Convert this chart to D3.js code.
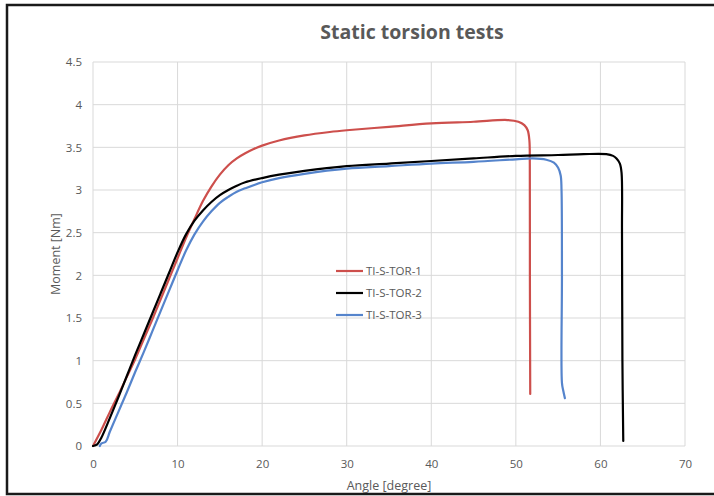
<!DOCTYPE html>
<html><head><meta charset="utf-8">
<script src="https://cdn.jsdelivr.net/npm/d3@7"></script>
<style>
html,body{margin:0;padding:0;background:#fff;}
svg{display:block;font-family:"Open Sans","Liberation Sans",sans-serif;}
</style></head>
<body><svg id="c" width="714" height="496"></svg>
<script>
const title = "Static torsion tests";
const xLabel = "Angle [degree]";
const yLabel = "Moment [Nm]";
const xTicks = [0,10,20,30,40,50,60,70];
const yTicks = [0,0.5,1,1.5,2,2.5,3,3.5,4,4.5];
const seriesNames = ["TI-S-TOR-1","TI-S-TOR-2","TI-S-TOR-3"];
const seriesColors = ["#cd4f4c","#000000","#5584cc"];

const tor1 = [[0,0],[1,0.19],[2,0.4],[3,0.6],[4,0.81],[5,1.02],[6,1.25],[7,1.48],[8,1.72],[9,1.96],[10,2.2],[11,2.44],[12,2.66],[13,2.87],[14,3.04],[15,3.18],[16,3.29],[17,3.37],[18,3.43],[19,3.48],[20,3.52],[22,3.58],[25,3.64],[28,3.68],[30,3.70],[35,3.74],[40,3.78],[45,3.80],[49,3.82],[50.3,3.80],[51,3.76],[51.4,3.70],[51.6,3.58],[51.65,3.3],[51.66,2.0],[51.7,0.61]];
const tor2 = [[0,0],[0.5,0.02],[1,0.1],[2,0.33],[3,0.57],[4,0.82],[5,1.07],[6,1.31],[7,1.55],[8,1.79],[9,2.03],[10,2.27],[11,2.48],[12,2.64],[13,2.76],[14,2.86],[15,2.94],[16,3.0],[17,3.05],[18,3.09],[20,3.14],[22,3.18],[25,3.225],[30,3.28],[35,3.31],[40,3.34],[45,3.37],[50,3.40],[55,3.41],[58,3.42],[60.7,3.42],[61.5,3.40],[61.9,3.37],[62.3,3.31],[62.5,3.2],[62.55,2.5],[62.6,1.0],[62.7,0.06]];
const tor3 = [[0.8,0],[1.0,0.03],[1.5,0.05],[2,0.17],[3,0.4],[4,0.63],[5,0.87],[6,1.1],[7,1.34],[8,1.58],[9,1.82],[10,2.06],[11,2.29],[12,2.48],[13,2.63],[14,2.75],[15,2.85],[16,2.92],[17,2.98],[18,3.02],[20,3.09],[22,3.14],[25,3.19],[30,3.25],[35,3.28],[40,3.31],[45,3.33],[50,3.36],[52,3.37],[53.6,3.355],[54.5,3.32],[55.0,3.26],[55.3,3.17],[55.4,3.0],[55.45,2.0],[55.45,0.74],[55.6,0.65],[55.8,0.56]];
const seriesData = [tor1, tor2, tor3];

const svg = d3.select("#c");
const L = 93, R = 685, T = 62, B = 446;
const x = d3.scaleLinear().domain([0,70]).range([L,R]);
const y = d3.scaleLinear().domain([0,4.5]).range([B,T]);
const txt = "#595959", grid = "#d9d9d9";

// outer frame
svg.append("path").attr("d","M716,5 L7,5 L7,494 L716,494")
  .attr("fill","none").attr("stroke","#1a1a1a").attr("stroke-width",2.5);

// gridlines
svg.append("g").selectAll("line").data(yTicks).join("line")
  .attr("x1",L).attr("x2",R).attr("y1",d=>y(d)).attr("y2",d=>y(d))
  .attr("stroke",grid).attr("stroke-width",1);
svg.append("g").selectAll("line").data(xTicks).join("line")
  .attr("y1",T).attr("y2",B).attr("x1",d=>x(d)).attr("x2",d=>x(d))
  .attr("stroke",grid).attr("stroke-width",1);

// axes labels via d3 axes
const xa = svg.append("g").attr("transform",`translate(0,${B})`)
  .call(d3.axisBottom(x).tickValues(xTicks).tickSize(0).tickPadding(14).tickFormat(d3.format("d")));
const ya = svg.append("g").attr("transform",`translate(${L},0)`)
  .call(d3.axisLeft(y).tickValues(yTicks).tickSize(0).tickPadding(11).tickFormat(d=>String(d)));
[xa,ya].forEach(a=>{
  a.select(".domain").remove();
  a.selectAll("text").attr("fill",txt).style("font-size","11.5px").style("font-family","'Open Sans','Liberation Sans',sans-serif");
});

// titles
svg.append("text").attr("x",412).attr("y",39).attr("text-anchor","middle")
  .attr("fill",txt).style("font-size","19.5px").style("font-weight","bold").text(title);
svg.append("text").attr("x",389).attr("y",490).attr("text-anchor","middle")
  .attr("fill",txt).style("font-size","12.5px").text(xLabel);
svg.append("text").attr("transform","translate(60,254) rotate(-90)").attr("text-anchor","middle")
  .attr("fill",txt).style("font-size","12.5px").text(yLabel);

// series
const line = d3.line().x(d=>x(d[0])).y(d=>y(d[1])).curve(d3.curveCatmullRom.alpha(0.5));
svg.append("g").selectAll("path").data(seriesData).join("path")
  .attr("d",line).attr("fill","none")
  .attr("stroke",(d,i)=>seriesColors[i]).attr("stroke-width",2.2)
  .attr("stroke-linejoin","round").attr("stroke-linecap","round");

// legend
const lg = svg.append("g").selectAll("g").data(seriesNames).join("g")
  .attr("transform",(d,i)=>`translate(336,${271+i*22})`);
lg.append("line").attr("x1",0).attr("x2",27).attr("y1",0).attr("y2",0)
  .attr("stroke",(d,i)=>seriesColors[i]).attr("stroke-width",2.2);
lg.append("text").attr("x",30).attr("y",4).attr("fill",txt)
  .style("font-size","11.5px").text(d=>d);
</script></body></html>
